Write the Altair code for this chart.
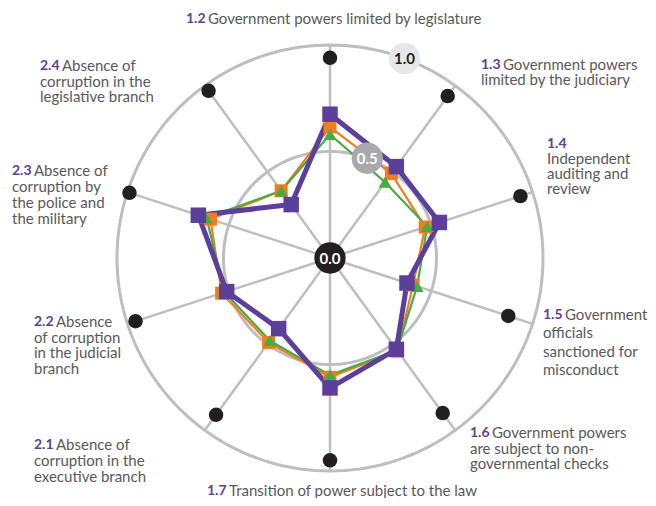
import altair as alt
import pandas as pd

# ---------------- data ----------------
factors = ["1.2", "1.3", "1.4", "1.5", "1.6", "1.7", "2.1", "2.2", "2.3", "2.4"]
orange = [0.615, 0.49, 0.47, 0.41, 0.54, 0.56, 0.49, 0.535, 0.59, 0.39]
green = [0.58, 0.44, 0.48, 0.43, 0.535, 0.55, 0.48, 0.52, 0.61, 0.39]
purple = [0.675, 0.53, 0.54, 0.38, 0.53, 0.61, 0.41, 0.51, 0.65, 0.31]
top_dots = [0.94, 0.94, 0.94, 0.88, 0.90, 0.95, 0.91, 0.96, 0.99, 0.97]
badges = ["0.0", "0.5", "1.0"]
badge_values = [0.0, 0.5, 1.0]
rings = [0.5, 1.0]

label_lines = [
    ["Government powers limited by legislature"],
    ["Government powers", "limited by the judiciary"],
    ["", "Independent", "auditing and", "review"],
    ["Government", "officials", "sanctioned for", "misconduct"],
    ["Government powers", "are subject to non-", "governmental checks"],
    ["Transition of power subject to the law"],
    ["Absence of", "corruption in the", "executive branch"],
    ["Absence", "of corruption", "in the judicial", "branch"],
    ["Absence of", "corruption by", "the police and", "the military"],
    ["Absence of", "corruption in the", "legislative branch"],
]

# ---------------- layout ----------------
W, H = 640, 490
S = 213.0              # pixels per 1.0 of score
CXP, CYP = 330, 258    # page position of the centre
CX, CY = CXP - 8, CYP - 8
STEP = 360.0 / len(factors)
BADGE_ANGLE = 20.5
# label anchors: left x, first-line y, line height (page px)
LABEL_LAYOUT = [(186, 19, 16), (481, 65, 15), (547, 144, 15), (543, 315, 18.3),
                (470, 433, 15.5), (207, 491, 16), (34, 445, 16), (34, 322, 15.7),
                (12, 171, 16), (40, 66, 15.5)]
NUM_W = 22

PURPLE = "#5b3f9b"
ORANGE = "#f47c20"
GREEN = "#4aab45"
GREY = "#bdbec0"
TEXT = "#58595b"
FONT = "Lato"

xs = alt.Scale(domain=[-CX / S, (W - CX) / S], nice=False, zero=False)
ys = alt.Scale(domain=[-(H - CY) / S, CY / S], nice=False, zero=False)


def X(f):
    return alt.X(f, type="quantitative", scale=xs, axis=None)


def Y(f):
    return alt.Y(f, type="quantitative", scale=ys, axis=None)


polar = dict(
    x="datum.r * sin(datum.ang * PI / 180)",
    y="datum.r * cos(datum.ang * PI / 180)",
)

# spokes
spoke_df = pd.DataFrame({"factor": factors, "ang": [i * STEP for i in range(len(factors))]})
spokes = alt.Chart(spoke_df).transform_calculate(
    x0="0", y0="0",
    x1="sin(datum.ang * PI / 180)", y1="cos(datum.ang * PI / 180)",
).mark_rule(color=GREY, strokeWidth=2.5).encode(
    x=X("x0"), y=Y("y0"), x2="x1:Q", y2="y1:Q")

# rings
ring_layers = []
for r in rings:
    ring_layers.append(
        alt.Chart(alt.sequence(0, 362, 2, as_="ang")).transform_calculate(
            r=str(r), **polar
        ).mark_line(color=GREY, strokeWidth=3).encode(
            x=X("x"), y=Y("y"), order="ang:Q")
    )

# black dots
dot_df = pd.DataFrame({"factor": factors, "r": top_dots,
                       "ang": [i * STEP for i in range(len(factors))]})
dots = alt.Chart(dot_df).transform_calculate(**polar).mark_point(
    filled=True, shape="circle", size=210, color="#231f20", opacity=1
).encode(x=X("x"), y=Y("y"))

# badges
badge_df = pd.DataFrame({"lab": badges, "r": badge_values, "ang": [BADGE_ANGLE] * 3})
badge_pts = alt.Chart(badge_df).transform_calculate(**polar).mark_point(
    filled=True, shape="circle", size=980, opacity=1
).encode(
    x=X("x"), y=Y("y"),
    color=alt.Color("lab:N", legend=None,
                    scale=alt.Scale(domain=badges, range=["#231f20", "#a7a9ac", "#e6e7e8"])))
badge_txt = alt.Chart(badge_df).transform_calculate(**polar).mark_text(
    font=FONT, fontSize=15, fontWeight="bold", baseline="middle", align="center", dy=1
).encode(
    x=X("x"), y=Y("y"), text="lab:N",
    color=alt.Color("lab:N", legend=None,
                    scale=alt.Scale(domain=badges, range=["#ffffff", "#ffffff", "#231f20"])))

# series
rows = []
for name, vals in [("orange", orange), ("green", green), ("purple", purple)]:
    for i in range(len(factors) + 1):
        k = i % len(factors)
        rows.append({"series": name, "idx": i, "factor": factors[k],
                     "r": vals[k], "ang": k * STEP})
ser = pd.DataFrame(rows)

style = {
    "orange": dict(color=ORANGE, width=2.2, shape="square", size=170),
    "green": dict(color=GREEN, width=2.2, shape="triangle-up", size=170),
    "purple": dict(color=PURPLE, width=5, shape="square", size=240),
}
line_layers, point_layers = [], []
for name in ["orange", "green", "purple"]:
    st = style[name]
    base = alt.Chart(ser).transform_filter(f"datum.series == '{name}'").transform_calculate(**polar)
    line_layers.append(base.mark_line(color=st["color"], strokeWidth=st["width"],
                                      strokeJoin="round").encode(
        x=X("x"), y=Y("y"), order="idx:Q"))
for name in ["orange", "green", "purple"]:
    st = style[name]
    base = alt.Chart(ser).transform_filter(
        f"datum.series == '{name}' && datum.idx < {len(factors)}").transform_calculate(**polar)
    point_layers.append(base.mark_point(filled=True, opacity=1, shape=st["shape"],
                                        size=st["size"], color=st["color"]).encode(
        x=X("x"), y=Y("y")))

# labels
num_rows, txt_rows = [], []
for f, lines, (lx, ly, lh) in zip(factors, label_lines, LABEL_LAYOUT):
    num_rows.append({"t": f, "x": (lx - CXP) / S, "y": (CYP - ly) / S})
    for j, line in enumerate(lines):
        if not line:
            continue
        px = lx + (NUM_W if j == 0 else 0)
        py = ly + j * lh
        txt_rows.append({"t": line, "x": (px - CXP) / S, "y": (CYP - py) / S})
num_layer = alt.Chart(pd.DataFrame(num_rows)).mark_text(
    font=FONT, fontSize=14, fontWeight="bold", color=PURPLE, align="left", baseline="middle"
).encode(x=X("x"), y=Y("y"), text="t:N")
txt_layer = alt.Chart(pd.DataFrame(txt_rows)).mark_text(
    font=FONT, fontSize=15, color=TEXT, align="left", baseline="middle"
).encode(x=X("x"), y=Y("y"), text="t:N")

chart = alt.layer(
    spokes, *ring_layers, dots, *line_layers, badge_pts, badge_txt, *point_layers,
    num_layer, txt_layer
).resolve_scale(color="independent").properties(
    width=W, height=H, padding=0, autosize="none"
).configure_view(stroke=None)

chart.save("out.html", embed_options={"renderer": "svg", "actions": False})
